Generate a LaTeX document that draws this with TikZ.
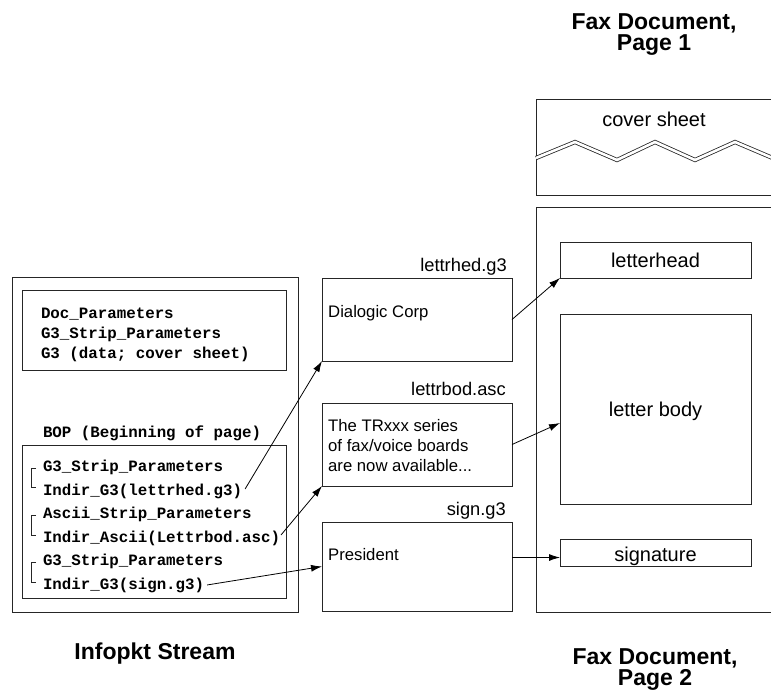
\documentclass[tikz,border=0pt]{standalone}
\usepackage{fontspec}
\setmainfont{Liberation Sans}
\setmonofont{Liberation Mono}
\usetikzlibrary{arrows.meta,calc}
\begin{document}
\begin{tikzpicture}[x=1pt,y=-1pt,
  line/.style={draw=black!85, line width=0.9pt},
  box/.style={line, rectangle, anchor=north west, inner sep=0pt, outer sep=0pt},
  mono/.style={anchor=base west, inner sep=0pt, outer sep=0pt, font=\fontsize{15.8}{18}\selectfont\ttfamily\bfseries},
  content/.style={anchor=base west, inner sep=0pt, font=\fontsize{16.7}{20}\selectfont},
  fname/.style={anchor=base east, inner sep=0pt, font=\fontsize{18.3}{22}\selectfont},
  plabel/.style={anchor=base, inner sep=0pt, font=\fontsize{20}{24}\selectfont},
  ttl/.style={anchor=base, inner sep=0pt, align=center, font=\fontsize{23}{21}\selectfont\bfseries},
  brk/.style={draw=black!85, line width=0.7pt},
  arr/.style={draw=black, line width=0.8pt, -{Latex[length=11pt,width=7pt]}}
]
\useasboundingbox (0,0) rectangle (771,689);
\clip (0,0) rectangle (771,689);

% ---- Infopkt stream ----
\node[box, minimum width=286pt, minimum height=335pt] (stream) at (12,277) {};
\node[box, minimum width=264pt, minimum height=80pt] (hdr) at (22,290) {};
\node[box, minimum width=264pt, minimum height=153pt] (pg) at (22,445) {};

\node[mono] (t1) at (41,318) {Doc\_Parameters};
\node[mono] (t2) at (41,338) {G3\_Strip\_Parameters};
\node[mono] (t3) at (41,358) {G3 (data; cover sheet)};
\node[mono] (bop) at (43,437) {BOP (Beginning of page)};

\node[mono] (s1) at (43,471) {G3\_Strip\_Parameters};
\node[mono] (i1) at (43,495) {Indir\_G3(lettrhed.g3)};
\node[mono] (s2) at (43,518) {Ascii\_Strip\_Parameters};
\node[mono] (i2) at (43,542) {Indir\_Ascii(Lettrbod.asc)};
\node[mono] (s3) at (43,565) {G3\_Strip\_Parameters};
\node[mono] (i3) at (43,589) {Indir\_G3(sign.g3)};

\draw[brk] (36,468) -- (31,468) -- (31,487) -- (36,487);
\draw[brk] (36,515) -- (31,515) -- (31,535) -- (36,535);
\draw[brk] (36,562) -- (31,562) -- (31,582) -- (36,582);

\node[ttl] (stitle) at (155,659) {Infopkt Stream};

% ---- files ----
\node[box, minimum width=190pt, minimum height=83pt] (hed) at (322,278) {};
\node[box, minimum width=190pt, minimum height=83pt] (bod) at (322,403) {};
\node[box, minimum width=190pt, minimum height=89pt] (sgn) at (322,522) {};

\node[fname] (fh) at (507,271) {lettrhed.g3};
\node[fname] (fb) at (506,395) {lettrbod.asc};
\node[fname] (fs) at (506,515) {sign.g3};

\node[content] (c1) at (328,317) {Dialogic Corp};
\node[content] (c2) at (328,431) {The TRxxx series};
\node[content] (c3) at (328,451) {of fax/voice boards};
\node[content] (c4) at (328,471) {are now available...};
\node[content] (c5) at (328,560) {President};

% ---- fax document ----
\node[ttl] (p1title) at (654,50) {Fax Document,\\Page 1};
\node[ttl] (p2title) at (655,685) {Fax Document,\\Page 2};

\node[box, minimum width=260pt, minimum height=96pt] (cover) at (536,99) {};
\node[plabel] (cl) at (654,126) {cover sheet};
\draw[draw=black!85, line width=0.8pt, double=white, double distance=2.6pt]
  (536,158) -- (575,142) -- (617,160) -- (655,142) -- (695,160) -- (735,142) -- (775,159);

\node[box, minimum width=260pt, minimum height=405pt] (page2) at (536,207) {};
\node[box, minimum width=191pt, minimum height=36pt] (lh) at (560,242) {};
\node[box, minimum width=191pt, minimum height=190pt] (lb) at (560,314) {};
\node[box, minimum width=191pt, minimum height=27pt] (sig) at (560,539) {};

\node[plabel] (lhl) at (lh.center |- 0,267.5) {letterhead};
\node[plabel] (lbl) at (lb.center |- 0,416.5) {letter body};
\node[plabel] (sgl) at (sig.center |- 0,561.5) {signature};

% ---- connectors ----
\draw[arr] ($(i1.east)+(3,-2)$) -- (hed.south west);
\draw[arr] ($(i2.east)+(1,-3)$) -- (bod.south west);
\draw[arr] ($(i3.east)+(3,0)$) -- (sgn.west);
\draw[arr] (hed.east) -- (lh.south west);
\draw[arr] (bod.east) -- ($(lb.west)+(0,14)$);
\coordinate (sy) at ($(sig.west)+(0,5)$);
\draw[arr] (sgn.east |- sy) -- (sy);
\end{tikzpicture}
\end{document}
